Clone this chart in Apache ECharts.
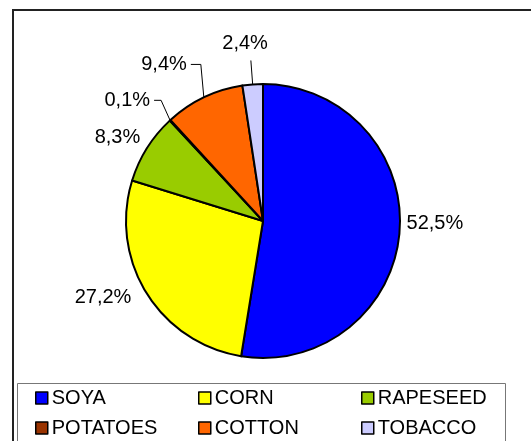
<!DOCTYPE html>
<html>
<head>
<meta charset="utf-8">
<script src="https://cdn.jsdelivr.net/npm/echarts@6/dist/echarts.min.js"></script>
<style>
html,body{margin:0;padding:0;background:#fff;}
#c{width:531px;height:441px;}
</style>
</head>
<body>
<div id="c"></div>
<script>
const categories = ['SOYA', 'CORN', 'RAPESEED', 'POTATOES', 'COTTON', 'TOBACCO'];
const values = [52.5, 27.2, 8.3, 0.1, 9.4, 2.4];
const labels = ['52,5%', '27,2%', '8,3%', '0,1%', '9,4%', '2,4%'];
const colors = ['#0000FF', '#FFFF00', '#99CC00', '#993300', '#FF6600', '#CCCCFF'];
// label line lengths per slice [length, length2, show]
const lineStyle = [[4, 0, false], [12, 0, false], [8, 0, false], [22, 8, true], [32, 10, true], [24, 0, true]];
// small label nudges [dx, dy] for labels without elbow lines
const nudges = [[-2, -9], [0, -2], [5, -6], null, null, [22, -17]];
// elbow leader lines: [bendDx, bendDy, labelRightDx] relative to slice edge anchor
const elbows = [null, null, null, [-9, -20, -20], [-3, -33, -17], null];

const font = '"Liberation Sans", Arial, sans-serif';
const chart = echarts.init(document.getElementById('c'), null, {renderer: 'canvas'});

const data = categories.map((name, i) => ({
  name: name,
  value: values[i],
  itemStyle: {color: colors[i]},
  label: {formatter: labels[i]},
  labelLine: {show: lineStyle[i][2], length: lineStyle[i][0], length2: lineStyle[i][1]}
}));

function legendCol(names, left) {
  return {
    orient: 'vertical',
    left: left,
    top: 388,
    height: 100,
    padding: 0,
    data: names,
    icon: 'rect',
    itemWidth: 12,
    itemHeight: 12,
    itemGap: 10,
    itemStyle: {borderColor: '#000', borderWidth: 1.5},
    textStyle: {fontFamily: font, fontSize: 20, color: '#000', padding: [0, 0, 0, -1]},
    selectedMode: false
  };
}

chart.setOption({
  animation: false,
  backgroundColor: '#fff',
  graphic: [
    {type: 'rect', shape: {x: 13, y: 10, width: 600, height: 600}, style: {fill: 'none', stroke: '#222', lineWidth: 2}, z: 0},
    {type: 'rect', shape: {x: 17.5, y: 383.5, width: 488, height: 100}, style: {fill: 'none', stroke: '#777', lineWidth: 1}, z: 0}
  ],
  legend: [
    legendCol(['SOYA', 'POTATOES'], 35),
    legendCol(['CORN', 'COTTON'], 198),
    legendCol(['RAPESEED', 'TOBACCO'], 361)
  ],
  series: [{
    type: 'pie',
    center: [263, 221],
    radius: 137,
    startAngle: 90,
    clockwise: true,
    avoidLabelOverlap: false,
    data: data,
    itemStyle: {borderColor: '#000', borderWidth: 2},
    label: {
      show: true,
      position: 'outside',
      fontFamily: font,
      fontSize: 20,
      color: '#000'
    },
    labelLine: {lineStyle: {color: '#000', width: 1}, smooth: false},
    labelLayout: function (p) {
      const i = p.dataIndex;
      const e = elbows[i];
      if (e && p.labelLinePoints && p.labelRect) {
        const p0 = p.labelLinePoints[0];
        const r = p.labelRect;
        const cy = p0[1] + e[1];
        const right = p0[0] + e[2];
        return {
          dx: right - (r.x + r.width),
          dy: cy - (r.y + r.height / 2),
          labelLinePoints: [[p0[0], p0[1]], [p0[0] + e[0], cy], [right + 4, cy]]
        };
      }
      const n = nudges[i];
      return n ? {dx: n[0], dy: n[1]} : {};
    },
    emphasis: {disabled: true}
  }]
});
</script>
</body>
</html>
